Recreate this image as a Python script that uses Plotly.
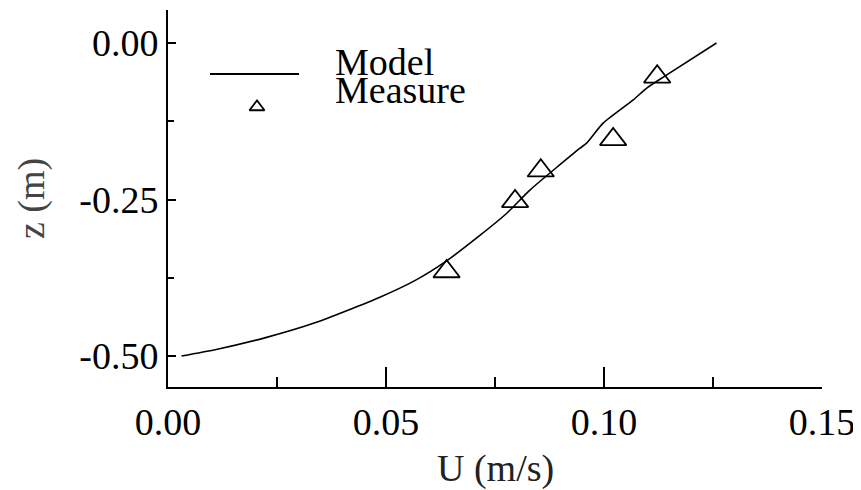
import plotly.graph_objects as go

# Model curve
model_u = [0.0031, 0.0108, 0.0222, 0.0337, 0.0486, 0.0565, 0.0639, 0.0716, 0.0777,
           0.0830, 0.0945, 0.0960, 0.0998, 0.1067, 0.1098, 0.1144, 0.1258]
model_z = [-0.500, -0.490, -0.471, -0.447, -0.406, -0.380, -0.348, -0.307, -0.272,
           -0.235, -0.168, -0.160, -0.128, -0.091, -0.072, -0.051, 0.000]

# Measurements
meas_u = [0.0639, 0.0796, 0.0855, 0.1021, 0.1122]
meas_z = [-0.365, -0.253, -0.204, -0.154, -0.054]

x_tickvals = [0.00, 0.05, 0.10, 0.15]
x_ticktext = ["0.00", "0.05", "0.10", "0.15"]
y_tickvals = [0.00, -0.25, -0.50]
y_ticktext = ["0.00", "-0.25", "-0.50"]

legend_names = ["Model", "Measure"]

FONT = "Liberation Serif"
FS = 38

OFF = 8  # page body margin
W, H = 861 - OFF, 490 - OFF
# plot area in page pixels: x 168..822, y 10..387
L = 168 - OFF
R = W - (822 - OFF)
T = 10 - OFF
B = H - (387 - OFF)
PW, PH = W - L - R, H - T - B


def px(x):
    return (x - OFF - L) / PW


def py(y):
    return (H - B - (y - OFF)) / PH


fig = go.Figure()
fig.add_trace(go.Scatter(x=model_u, y=model_z, mode="lines",
                         line=dict(color="black", width=1.6, shape="spline", smoothing=0.6),
                         showlegend=False))
fig.add_trace(go.Scatter(x=meas_u, y=meas_z, mode="markers",
                         marker=dict(symbol="triangle-up-open", size=23, color="black",
                                     line=dict(width=1.8, color="black")),
                         showlegend=False))

# Legend keys on an overlay axis spanning the plot area (0..1 == paper)
fig.add_trace(go.Scatter(x=[px(210), px(299)], y=[py(74), py(74)], mode="lines",
                         line=dict(color="black", width=2), xaxis="x2", yaxis="y2",
                         showlegend=False, hoverinfo="skip"))
fig.add_trace(go.Scatter(x=[px(257)], y=[py(107)], mode="markers",
                         marker=dict(symbol="triangle-up-open", size=13, color="black",
                                     line=dict(width=1.8, color="black")),
                         xaxis="x2", yaxis="y2", showlegend=False, hoverinfo="skip"))

# Legend text: two tight lines (line pitch ~28 px) with large glyphs
legend_text = "<br>".join('<span style="font-size:38px">%s</span>' % n for n in legend_names)
fig.add_annotation(x=px(333), y=py(76), xref="paper", yref="paper", text=legend_text,
                   showarrow=False, xanchor="left", yanchor="middle", align="left",
                   font=dict(family=FONT, size=21.5, color="black"))

# Axis titles
fig.add_annotation(x=px(495), y=py(468), xref="paper", yref="paper", text="U (m/s)",
                   showarrow=False, xanchor="center", yanchor="middle",
                   font=dict(family=FONT, size=FS, color="#222"))
fig.add_annotation(x=px(31), y=py(199), xref="paper", yref="paper", text="z (m)",
                   showarrow=False, xanchor="center", yanchor="middle", textangle=-90,
                   font=dict(family=FONT, size=FS, color="#444"))

fig.update_layout(
    width=W, height=H,
    margin=dict(l=L, r=R, t=T, b=B),
    paper_bgcolor="white", plot_bgcolor="white",
    font=dict(family=FONT, size=FS, color="black"),
    xaxis=dict(range=[0, 0.15], showgrid=False, zeroline=False, showline=True,
               linecolor="black", linewidth=2, ticks="inside", ticklen=20, tickwidth=2,
               tickcolor="black", tickvals=x_tickvals, ticktext=x_ticktext,
               minor=dict(dtick=0.025, tick0=0, ticks="inside", ticklen=10, tickwidth=2,
                          tickcolor="black", showgrid=False)),
    yaxis=dict(range=[-0.5495, 0.0527], showgrid=False, zeroline=False, showline=True,
               linecolor="black", linewidth=2, ticks="inside", ticklen=8, tickwidth=2,
               tickcolor="black", tickvals=y_tickvals, ticktext=y_ticktext,
               minor=dict(dtick=0.125, tick0=0, ticks="inside", ticklen=6, tickwidth=2,
                          tickcolor="black", showgrid=False)),
    xaxis2=dict(range=[0, 1], overlaying="x", visible=False),
    yaxis2=dict(range=[0, 1], overlaying="y", visible=False),
)

fig.write_html("out.html")
